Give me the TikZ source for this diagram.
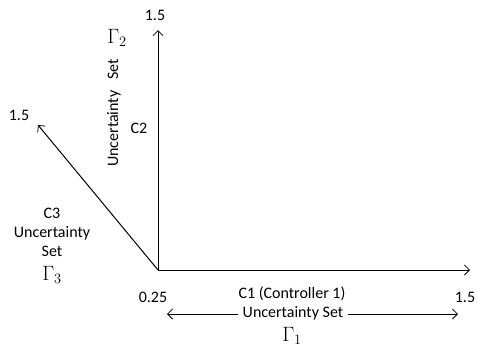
\documentclass[tikz,border=0pt]{standalone}
\usepackage{fontspec}
\setmainfont{Carlito}
\usetikzlibrary{arrows.meta}
\begin{document}
\begin{tikzpicture}[x=1pt,y=-1pt,
  axis/.style={line width=1pt,-{Straight Barb[length=5pt,width=10pt,line width=0.8pt]}},
  dbl/.style={line width=0.9pt,{Straight Barb[length=5pt,width=10pt,line width=0.8pt]}-{Straight Barb[length=5pt,width=10pt,line width=0.8pt]}},
  lbl/.style={font=\fontsize{16}{18}\selectfont, inner sep=0pt},
  gam/.style={font=\fontsize{21}{23}\selectfont, inner sep=0pt}]
\useasboundingbox (0,0) rectangle (477,349);
\coordinate (O) at (158,270);
\coordinate (X) at (470,270);
\coordinate (Y) at (158,30);
\coordinate (Z) at (38,125);
\draw[axis] (O) -- (X);
\draw[axis] (O) -- (Y);
\draw[axis] (O) -- (Z);
\node[lbl] (y15) at (155,15) {1.5};
\node[gam] (g2) at (117,38) {$\Gamma_2$};
\node[lbl,rotate=90] (us2) at (114,113) {Uncertainty\ \ \ Set};
\node[lbl] (c2) at (139,128) {C2};
\node[lbl] (z15) at (19,115) {1.5};
\node[lbl] (c3) at (52,213) {C3};
\node[lbl] (u3) at (52,233) {Uncertainty};
\node[lbl] (s3) at (52,251) {Set};
\node[gam] (g3) at (52,275) {$\Gamma_3$};
\node[lbl] (o25) at (153,297) {0.25};
\node[lbl] (c1) at (292,294) {C1 (Controller 1)};
\node[lbl] (x15) at (465,297) {1.5};
\coordinate (L) at (167,314);
\coordinate (R) at (458,314);
\draw[dbl] (L) -- (R);
\node[lbl,fill=white,inner xsep=5pt,inner ysep=2pt] (u1) at (293,313) {Uncertainty Set};
\node[gam] (g1) at (292,336) {$\Gamma_1$};
\end{tikzpicture}
\end{document}
